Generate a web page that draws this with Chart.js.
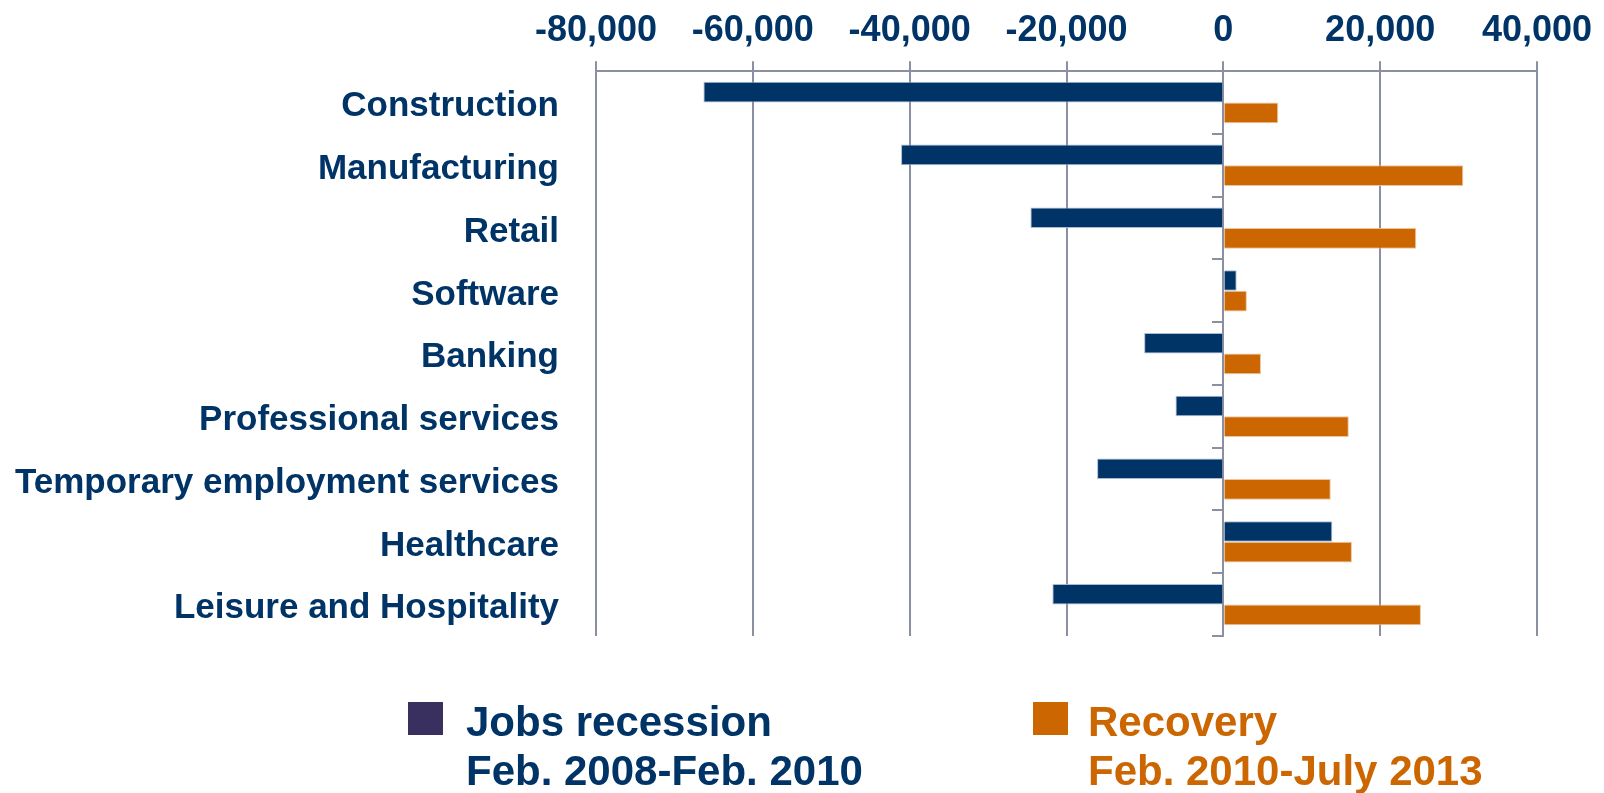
<!DOCTYPE html>
<html>
<head>
<meta charset="utf-8">
<script src="https://cdn.jsdelivr.net/npm/chart.js@4/dist/chart.umd.min.js"></script>
<style>
  html, body { margin: 0; padding: 0; background: #ffffff; }
  #wrap { position: relative; width: 1604px; height: 793px; }
  #chart { position: absolute; left: 0; top: 0; }
  .leg { position: absolute; font-family: 'Liberation Sans', Arial, sans-serif; font-weight: bold; font-size: 42px; line-height: 49px; white-space: nowrap; }
  .sw { position: absolute; width: 35px; height: 33px; }
</style>
</head>
<body>
<div id="wrap">
  <canvas id="chart" width="1604" height="793"></canvas>
  <div class="sw" style="left:408px; top:702px; background:#3a3060;"></div>
  <div class="leg" id="leg1" style="left:466px; top:697px; color:#003366;"></div>
  <div class="sw" style="left:1033px; top:702px; background:#cc6600;"></div>
  <div class="leg" id="leg2" style="left:1088px; top:697px; color:#cc6600;"></div>
</div>
<script>
const categories = ["Construction", "Manufacturing", "Retail", "Software", "Banking",
  "Professional services", "Temporary employment services", "Healthcare", "Leisure and Hospitality"];
const recessionValues = [-66300, -41100, -24600, 1700, -10100, -6100, -16100, 13900, -21800];
const recoveryValues = [7000, 30600, 24600, 3000, 4800, 16000, 13700, 16400, 25200];
const seriesNames = ["Jobs recession", "Recovery"];
const seriesPeriods = ["Feb. 2008-Feb. 2010", "Feb. 2010-July 2013"];
const xTicks = [-80000, -60000, -40000, -20000, 0, 20000, 40000];

document.getElementById('leg1').innerHTML = seriesNames[0] + '<br>' + seriesPeriods[0];
document.getElementById('leg2').innerHTML = seriesNames[1] + '<br>' + seriesPeriods[1];

const navy = '#003366';
const orange = '#cc6600';
const gridColor = '#8b8fa3';

new Chart(document.getElementById('chart'), {
  type: 'bar',
  data: {
    labels: categories,
    datasets: [
      { label: seriesNames[0], data: recessionValues, backgroundColor: navy,
        borderColor: 'rgba(160,180,205,0.9)', borderWidth: 1,
        categoryPercentage: 0.66, barPercentage: 1.0 },
      { label: seriesNames[1], data: recoveryValues, backgroundColor: orange,
        borderColor: 'rgba(235,190,150,0.9)', borderWidth: 1,
        categoryPercentage: 0.66, barPercentage: 1.0 }
    ]
  },
  options: {
    indexAxis: 'y',
    responsive: false,
    animation: false,
    layout: { padding: { left: 0, right: 67, top: 0, bottom: 157 } },
    plugins: { legend: { display: false }, tooltip: { enabled: false } },
    scales: {
      x: {
        type: 'linear',
        position: 'top',
        min: xTicks[0],
        max: xTicks[xTicks.length - 1],
        afterBuildTicks: (scale) => { scale.ticks = xTicks.map(v => ({ value: v })); },
        ticks: {
          color: navy,
          padding: 9,
          font: { family: "'Liberation Sans', Arial, sans-serif", size: 36, weight: 'bold' },
          callback: (v) => Number(v).toLocaleString('en-US')
        },
        grid: { color: gridColor, lineWidth: 2, tickLength: 10, drawTicks: true },
        border: { display: true, color: gridColor, width: 2 }
      },
      y: {
        position: 'left',
        afterFit: (scale) => { scale.width = 596; },
        ticks: {
          color: navy,
          padding: 29,
          labelOffset: 4,
          autoSkip: false,
          font: { family: "'Liberation Sans', Arial, sans-serif", size: 35, weight: 'bold' }
        },
        grid: { display: false },
        border: { display: false }
      },
      y2: {
        type: 'category',
        axis: 'y',
        position: { x: 0 },
        offset: true,
        ticks: { display: false },
        grid: { offset: true, drawOnChartArea: false, drawTicks: true, tickLength: 10, color: gridColor, lineWidth: 2 },
        border: { display: true, color: gridColor, width: 2 }
      }
    }
  }
});
</script>
</body>
</html>
